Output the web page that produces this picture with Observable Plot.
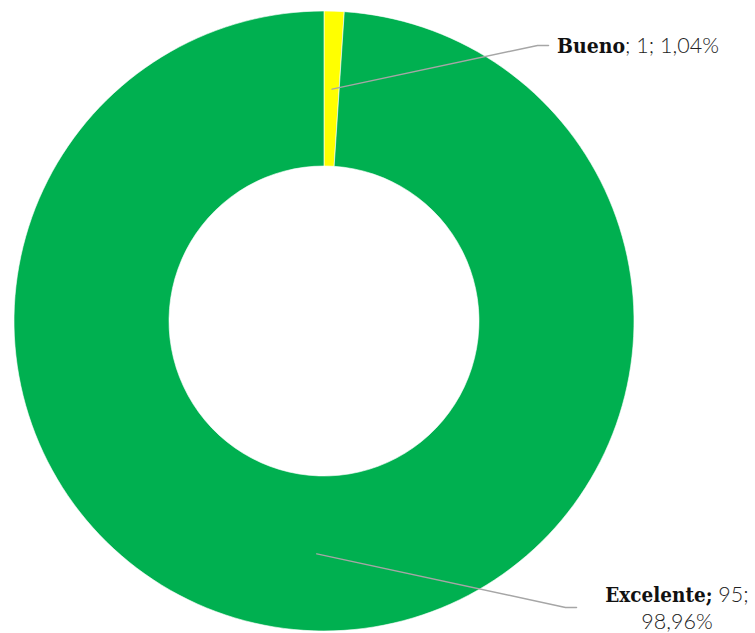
<!DOCTYPE html>
<html>
<head>
<meta charset="utf-8">
<script src="https://cdn.jsdelivr.net/npm/d3@7"></script>
<script src="https://cdn.jsdelivr.net/npm/@observablehq/plot@0.6"></script>
<style>
  html, body { margin: 0; padding: 0; background: #fff; }
  #chart svg { display: block; }
</style>
</head>
<body>
<div id="chart"></div>
<script>
// Survey ratings: category, count and the percentage shown in the label
const categories = ["Bueno", "Excelente"];
const counts = [1, 95];
const percentLabels = ["1,04%", "98,96%"];
const sliceColors = ["#FFFF00", "#00B050"];

const W = 755, H = 633;
const outerR = 310, innerR = 155;

const slices = categories.map((category, i) => ({category, count: counts[i], pct: percentLabels[i]}));
const pie = d3.pie().value(d => d.count).sort(null);
const arcs = pie(slices);
const ringArc = d3.arc().innerRadius(innerR).outerRadius(outerR);
const midArc = d3.arc().innerRadius((innerR + outerR) / 2).outerRadius((innerR + outerR) / 2);

const color = Plot.scale({color: {domain: categories, range: sliceColors}});

// Callout layout (elbow, end of leader, label anchor) relative to the ring centre
const calloutLayout = {
  Bueno:     {elbow: [213, -276], end: [224, -276], text: [233, -276], anchor: "start", lines: 1},
  Excelente: {elbow: [241, 286],  end: [252, 286],  text: [353, 281], anchor: "middle", lines: 2}
};

const leaders = arcs.flatMap(a => {
  const L = calloutLayout[a.data.category];
  const [cx, cy] = midArc.centroid(a);
  return [
    {category: a.data.category, x: cx, y: cy},
    {category: a.data.category, x: L.elbow[0], y: L.elbow[1]},
    {category: a.data.category, x: L.end[0], y: L.end[1]}
  ];
});

const boldFont = "'DejaVu Serif Condensed', 'DejaVu Serif', serif";

function ringMark(index, scales) {
  const ox = scales.x(0), oy = scales.y(0);
  const g = d3.create("svg:g").attr("transform", `translate(${ox},${oy})`);
  g.selectAll("path")
    .data(arcs)
    .join("path")
    .attr("d", ringArc)
    .attr("fill", d => color.apply(d.data.category))
    .attr("stroke", "#fff")
    .attr("stroke-width", 0.6);
  return g.node();
}

function labelMark(index, scales) {
  const g = d3.create("svg:g");
  for (const a of arcs) {
    const d = a.data;
    const L = calloutLayout[d.category];
    const x = scales.x(L.text[0]), y = scales.y(L.text[1]);
    const t = g.append("text")
      .attr("x", x).attr("y", y)
      .attr("text-anchor", L.anchor)
      .attr("fill", "#222")
      .style("font-family", "'Lato Light', Lato, sans-serif")
      .style("font-weight", 300)
      .style("font-size", "21.5px");
    if (L.lines === 1) {
      t.attr("dy", "0.35em");
      t.append("tspan").text(d.category)
        .style("font-family", boldFont)
        .style("font-weight", 700).style("font-size", "21px").attr("fill", "#111");
      t.append("tspan").text(`; ${d.count}; ${d.pct}`);
    } else {
      t.append("tspan").text(`${d.category};`)
        .style("font-family", boldFont)
        .style("font-weight", 700).style("font-size", "20.5px").attr("fill", "#111");
      t.append("tspan").text(` ${d.count};`);
      t.append("tspan").attr("x", x).attr("dy", 27).text(d.pct);
    }
  }
  return g.node();
}

const chart = Plot.plot({
  width: W,
  height: H,
  margin: 0,
  x: {domain: [-324, W - 324], range: [0, W], axis: null},
  y: {domain: [-321, H - 321], range: [0, H], axis: null},
  marks: [
    ringMark,
    Plot.line(leaders, {x: "x", y: "y", z: "category", stroke: "#A6A6A6", strokeWidth: 1.5}),
    labelMark
  ]
});

document.getElementById("chart").append(chart);
</script>
</body>
</html>
